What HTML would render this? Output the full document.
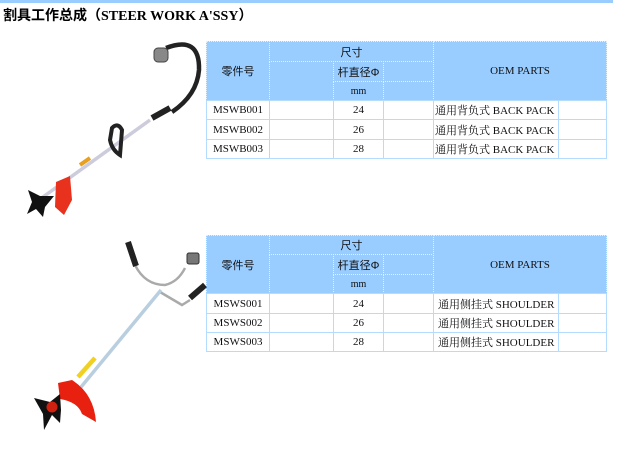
<!DOCTYPE html>
<html><head><meta charset="utf-8"><style>
body{margin:0;width:619px;height:451px;background:#fff;position:relative;overflow:hidden;font-family:"Liberation Serif","Noto Serif CJK SC",serif;}
.bar{position:absolute;left:0;top:0;width:613px;height:3px;background:#9cf;}
.title{position:absolute;left:3px;top:5px;font-size:14px;font-weight:bold;font-family:"Liberation Serif","Noto Sans CJK SC",serif;white-space:nowrap;}
.c{position:absolute;box-sizing:border-box;display:flex;align-items:center;justify-content:center;font-size:11px;color:#111;white-space:nowrap;}
.h{background:#9cf;border:1px dotted #dff0ff;font-family:"Liberation Sans","Noto Sans CJK SC",sans-serif;font-size:11px;}
.d{background:#fff;border:1px solid #b3dcff;}
.l{justify-content:flex-start;padding-left:1px;}
</style></head><body>
<div class="bar"></div>
<div class="title">割具工作总成（STEER WORK A'SSY）</div>

<div class="c h" style="left:206px;top:41px;width:64px;height:60px">零件号</div>
<div class="c h" style="left:269px;top:41px;width:165px;height:21px">尺寸</div>
<div class="c h" style="left:269px;top:61px;width:65px;height:40px"></div>
<div class="c h" style="left:333px;top:61px;width:51px;height:21px">杆直径Φ</div>
<div class="c h" style="left:333px;top:81px;width:51px;height:20px;font-family:'Liberation Serif',serif;font-size:10px">mm</div>
<div class="c h" style="left:383px;top:61px;width:51px;height:21px"></div>
<div class="c h" style="left:383px;top:81px;width:51px;height:20px"></div>
<div class="c h" style="left:433px;top:41px;width:174px;height:60px;font-family:'Liberation Serif',serif">OEM PARTS</div>

<div class="c d" style="left:206px;top:100px;width:64px;height:20px">MSWB001</div>
<div class="c d" style="left:269px;top:100px;width:65px;height:20px"></div>
<div class="c d" style="left:333px;top:100px;width:51px;height:20px">24</div>
<div class="c d" style="left:383px;top:100px;width:51px;height:20px"></div>
<div class="c d l" style="left:433px;top:100px;width:126px;height:20px">通用背负式 BACK PACK</div>
<div class="c d" style="left:558px;top:100px;width:49px;height:20px"></div>

<div class="c d" style="left:206px;top:119px;width:64px;height:21px">MSWB002</div>
<div class="c d" style="left:269px;top:119px;width:65px;height:21px"></div>
<div class="c d" style="left:333px;top:119px;width:51px;height:21px">26</div>
<div class="c d" style="left:383px;top:119px;width:51px;height:21px"></div>
<div class="c d l" style="left:433px;top:119px;width:126px;height:21px">通用背负式 BACK PACK</div>
<div class="c d" style="left:558px;top:119px;width:49px;height:21px"></div>

<div class="c d" style="left:206px;top:139px;width:64px;height:20px">MSWB003</div>
<div class="c d" style="left:269px;top:139px;width:65px;height:20px"></div>
<div class="c d" style="left:333px;top:139px;width:51px;height:20px">28</div>
<div class="c d" style="left:383px;top:139px;width:51px;height:20px"></div>
<div class="c d l" style="left:433px;top:139px;width:126px;height:20px">通用背负式 BACK PACK</div>
<div class="c d" style="left:558px;top:139px;width:49px;height:20px"></div>

<div class="c h" style="left:206px;top:235px;width:64px;height:59px">零件号</div>
<div class="c h" style="left:269px;top:235px;width:165px;height:20px">尺寸</div>
<div class="c h" style="left:269px;top:254px;width:65px;height:40px"></div>
<div class="c h" style="left:333px;top:254px;width:51px;height:21px">杆直径Φ</div>
<div class="c h" style="left:333px;top:274px;width:51px;height:20px;font-family:'Liberation Serif',serif;font-size:10px">mm</div>
<div class="c h" style="left:383px;top:254px;width:51px;height:21px"></div>
<div class="c h" style="left:383px;top:274px;width:51px;height:20px"></div>
<div class="c h" style="left:433px;top:235px;width:174px;height:59px;font-family:'Liberation Serif',serif">OEM PARTS</div>

<div class="c d" style="left:206px;top:293px;width:64px;height:21px">MSWS001</div>
<div class="c d" style="left:269px;top:293px;width:65px;height:21px"></div>
<div class="c d" style="left:333px;top:293px;width:51px;height:21px">24</div>
<div class="c d" style="left:383px;top:293px;width:51px;height:21px"></div>
<div class="c d l" style="left:433px;top:293px;width:126px;height:21px;padding-left:4px">通用侧挂式 SHOULDER</div>
<div class="c d" style="left:558px;top:293px;width:49px;height:21px"></div>

<div class="c d" style="left:206px;top:313px;width:64px;height:20px">MSWS002</div>
<div class="c d" style="left:269px;top:313px;width:65px;height:20px"></div>
<div class="c d" style="left:333px;top:313px;width:51px;height:20px">26</div>
<div class="c d" style="left:383px;top:313px;width:51px;height:20px"></div>
<div class="c d l" style="left:433px;top:313px;width:126px;height:20px;padding-left:4px">通用侧挂式 SHOULDER</div>
<div class="c d" style="left:558px;top:313px;width:49px;height:20px"></div>

<div class="c d" style="left:206px;top:332px;width:64px;height:20px">MSWS003</div>
<div class="c d" style="left:269px;top:332px;width:65px;height:20px"></div>
<div class="c d" style="left:333px;top:332px;width:51px;height:20px">28</div>
<div class="c d" style="left:383px;top:332px;width:51px;height:20px"></div>
<div class="c d l" style="left:433px;top:332px;width:126px;height:20px;padding-left:4px">通用侧挂式 SHOULDER</div>
<div class="c d" style="left:558px;top:332px;width:49px;height:20px"></div>

<svg style="position:absolute;left:0;top:0" width="210" height="451">
 <path d="M166 48 Q200 35 199 70 Q197 95 172 112" fill="none" stroke="#222" stroke-width="4.5"/>
 <rect x="154" y="48" width="14" height="14" rx="4" fill="#888" stroke="#444"/>
 <line x1="150" y1="120" x2="36" y2="202" stroke="#ccd" stroke-width="3.5"/>
 <line x1="152" y1="118" x2="170" y2="108" stroke="#222" stroke-width="6"/>
 <line x1="80" y1="165" x2="90" y2="158" stroke="#e8a020" stroke-width="4"/>
 <path d="M112 128 Q118 122 122 130 L120 155 Q112 150 110 140 Z" fill="none" stroke="#222" stroke-width="4"/>
 <path d="M56 182 L70 176 L72 200 L64 215 L55 207 Z" fill="#e8321e"/>
 <path d="M28 190 L40 196 L54 196 L45 207 L43 217 L36 209 L27 214 L32 202 Z" fill="#111"/>
 <path d="M135 265 Q145 285 165 285 Q178 282 185 268" fill="none" stroke="#aaa" stroke-width="2.5"/>
 <line x1="128" y1="242" x2="136" y2="266" stroke="#222" stroke-width="6"/>
 <rect x="187" y="253" width="12" height="11" rx="2" fill="#777" stroke="#333"/>
 <path d="M160 292 L182 305 L190 300" fill="none" stroke="#aaa" stroke-width="2.5"/>
 <line x1="190" y1="298" x2="205" y2="285" stroke="#222" stroke-width="6"/>
 <line x1="161" y1="290" x2="72" y2="398" stroke="#b9cfe0" stroke-width="3.5"/>
 <line x1="78" y1="377" x2="95" y2="358" stroke="#f0d020" stroke-width="4.5"/>
 <path d="M58 383 L72 380 Q94 394 96 422 L82 414 Q78 402 60 399 Z" fill="#e82010"/>
 <path d="M34 398 L50 402 L60 394 L61 410 L60 423 L52 415 L44 430 L43 414 Z" fill="#111"/>
 <circle cx="52" cy="407" r="5.5" fill="#d02010"/>
</svg>
</body></html>
